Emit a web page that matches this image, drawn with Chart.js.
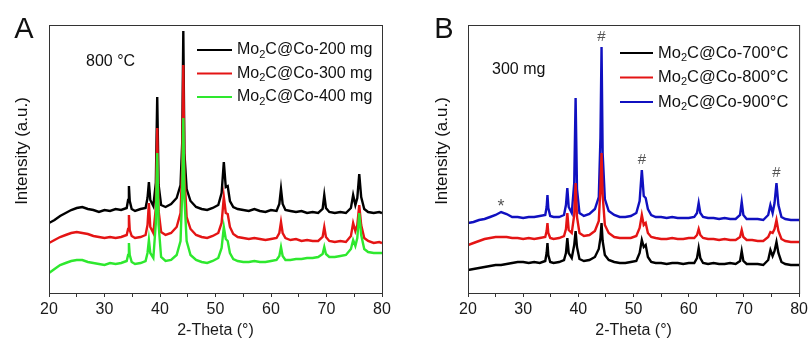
<!DOCTYPE html>
<html>
<head>
<meta charset="utf-8">
<script src="https://cdn.jsdelivr.net/npm/chart.js@4"></script>
<style>
  html, body { margin: 0; background: #fff; }
  .panel { position: absolute; top: 0; }
  #panelA { left: 0; }
  #panelB { left: 405px; }
</style>
</head>
<body>
<div class="panel" id="panelA"><canvas id="chartA" width="405" height="343"></canvas></div>
<div class="panel" id="panelB"><canvas id="chartB" width="406" height="343"></canvas></div>
<script>
// 2-theta positions shared by every pattern (denser around the reflections)
const twoTheta = [
    20, 21, 22, 23, 24, 25, 26, 27, 28, 29, 30, 31, 32, 33,
    34.0, 34.25, 34.4, 34.55, 34.9, 35.5, 36.5, 37.4, 37.75, 38.0, 38.25,
    38.8, 39.25, 39.5, 39.75, 40.2, 41, 42, 43, 43.7, 44.0, 44.2, 44.4, 44.8, 45.5,
    46.5, 47.5, 48.5, 49.5, 50.5, 51.1, 51.5, 51.85, 52.2, 52.6, 53.2,
    54, 55, 56, 57, 58, 59, 60, 61, 61.5, 61.8, 62.1, 62.6,
    63.5, 64.5, 65.5, 66.5, 67.5, 68.5, 69.3, 69.6, 69.9, 70.5,
    71.5, 72.5, 73.5, 74.4, 74.8, 75.2, 75.55, 75.9, 76.25, 76.8, 77.5, 78.5, 79.5, 80
]

// Panel A: 800 °C, different precursor masses (stacked, arbitrary units)
const mass200 = [
    70, 73, 77, 80, 83, 85, 86, 84, 83, 81, 83, 82, 84, 83,
    85, 93, 107, 92, 84, 82, 84, 85, 95, 111, 93,
    87, 110, 196, 108, 88, 86, 89, 95, 108, 150, 262, 140, 104, 92,
    86, 84, 83, 85, 88, 100, 131, 106, 107, 92, 86,
    84, 83, 82, 84, 82, 81, 83, 82, 89, 104, 89, 83,
    82, 81, 82, 80, 81, 80, 84, 98, 85, 81,
    80, 81, 80, 85, 98, 88, 95, 119, 96, 84, 81, 80, 81, 80
]
const mass300 = [
    50, 53, 56, 58, 60, 61, 60, 59, 57, 56, 55, 56, 55, 56,
    58, 64, 78, 63, 57, 55, 56, 58, 68, 90, 66,
    60, 85, 165, 82, 61, 58, 60, 66, 80, 125, 228, 118, 76, 64,
    58, 56, 55, 57, 60, 70, 96, 80, 79, 66, 59,
    56, 55, 54, 55, 54, 53, 54, 55, 60, 71, 60, 55,
    53, 54, 52, 53, 52, 52, 56, 66, 56, 52,
    51, 52, 51, 57, 70, 62, 68, 88, 68, 55, 52, 50, 51, 50
]
const mass400 = [
    20, 24, 28, 30, 32, 33, 33, 31, 30, 29, 28, 30, 29, 30,
    32, 38, 50, 38, 31, 29, 30, 32, 40, 53, 40,
    35, 70, 140, 68, 36, 32, 33, 38, 52, 100, 175, 95, 52, 38,
    33, 31, 30, 32, 35, 45, 66, 54, 52, 40, 34,
    32, 31, 31, 32, 31, 31, 32, 33, 37, 46, 37, 33,
    33, 34, 34, 35, 35, 36, 39, 46, 39, 36,
    36, 37, 38, 44, 53, 47, 55, 80, 58, 44, 41, 40, 40, 40
]

// Panel B: 300 mg, different annealing temperatures
const temp700 = [
    23, 24, 25, 26, 27, 28, 28, 29, 30, 31, 31, 30, 31, 30,
    32, 40, 50, 38, 31, 30, 31, 33, 40, 55, 40,
    35, 48, 62, 46, 34, 32, 33, 36, 44, 55, 70, 52, 38, 33,
    31, 30, 30, 31, 32, 40, 53, 46, 48, 36, 31,
    30, 30, 29, 30, 30, 29, 30, 30, 35, 45, 35, 30,
    29, 30, 29, 29, 30, 29, 32, 42, 32, 29,
    29, 29, 28, 33, 43, 37, 42, 51, 40, 31, 29, 28, 28, 28
]
const temp800 = [
    48, 50, 52, 54, 55, 56, 56, 56, 55, 55, 54, 55, 54, 55,
    56, 62, 70, 60, 55, 54, 55, 57, 64, 80, 63,
    60, 78, 110, 76, 60, 57, 58, 62, 72, 105, 140, 98, 68, 60,
    56, 55, 55, 55, 57, 65, 78, 68, 70, 60, 56,
    55, 54, 54, 55, 54, 54, 55, 55, 58, 64, 58, 55,
    54, 54, 53, 54, 53, 53, 56, 63, 56, 53,
    53, 52, 52, 56, 61, 60, 64, 73, 62, 54, 52, 51, 51, 51
]
const temp900 = [
    70, 71, 73, 74, 76, 78, 81, 79, 76, 76, 75, 76, 76, 77,
    78, 86, 98, 85, 77, 76, 76, 78, 88, 105, 86,
    80, 110, 195, 104, 80, 77, 79, 84, 96, 155, 246, 140, 94, 82,
    78, 76, 76, 77, 80, 92, 123, 97, 95, 84, 78,
    76, 76, 75, 76, 75, 75, 75, 76, 80, 90, 80, 76,
    75, 75, 74, 75, 74, 74, 78, 91, 78, 74,
    74, 74, 73, 78, 88, 80, 90, 110, 88, 76, 74, 73, 73, 73
]

const labelsA = ['Mo2C@Co-200 mg', 'Mo2C@Co-300 mg', 'Mo2C@Co-400 mg']
const labelsB = ['Mo2C@Co-700°C', 'Mo2C@Co-800°C', 'Mo2C@Co-900°C']

// reflections marked above the 900 °C pattern
const markTheta = [26, 44.2, 51.5, 75.9]
const markSymbols = ['*', '#', '#', '#']

const FONT = '"Liberation Sans", Arial, sans-serif'
Chart.defaults.font.family = FONT
Chart.defaults.color = '#1a1a1a'

const points = ys => twoTheta.map((x, i) => ({x: x, y: ys[i]}))

const dataset = (label, ys, color, order) => ({
    label: label, data: points(ys), borderColor: color, backgroundColor: color,
    borderWidth: 2.4, pointRadius: 0, tension: 0, order: order
})

// draws "Mo2C..." with the 2 as a subscript
function drawFormula(ctx, text, x, y, size) {
    const head = text.slice(0, 2), sub = text.slice(2, 3), tail = text.slice(3)
    ctx.font = `${size}px ${FONT}`
    ctx.fillText(head, x, y)
    x += ctx.measureText(head).width
    ctx.font = `${Math.round(size * 0.68)}px ${FONT}`
    ctx.fillText(sub, x, y + size * 0.3)
    x += ctx.measureText(sub).width
    ctx.font = `${size}px ${FONT}`
    ctx.fillText(tail, x, y)
}

// frame, panel letter, axis title, note and legend
const decorations = {
    id: 'decorations',
    afterDraw(chart, args, opts) {
        const {ctx, chartArea: a} = chart
        ctx.save()
        ctx.strokeStyle = '#333'
        ctx.lineWidth = 1
        ctx.strokeRect(a.left + 0.5, a.top + 0.5, a.right - a.left, a.bottom - a.top)

        ctx.fillStyle = '#111'
        ctx.textBaseline = 'middle'
        ctx.textAlign = 'center'
        ctx.font = `29px ${FONT}`
        ctx.fillText(opts.letter, opts.letterX, 30)

        ctx.save()
        ctx.translate(opts.titleX, 151)
        ctx.rotate(-Math.PI / 2)
        ctx.font = `17px ${FONT}`
        ctx.fillText('Intensity (a.u.)', 0, 0)
        ctx.restore()

        ctx.textAlign = 'left'
        ctx.font = `16px ${FONT}`
        ctx.fillText(opts.note, opts.noteX, opts.noteY)

        const lg = opts.legend
        chart.data.datasets.forEach((ds, i) => {
            const y = lg.y + i * lg.gap
            ctx.strokeStyle = ds.borderColor
            ctx.lineWidth = 2
            ctx.beginPath()
            ctx.moveTo(lg.x, y)
            ctx.lineTo(lg.x + lg.len, y)
            ctx.stroke()
            ctx.fillStyle = '#111'
            drawFormula(ctx, ds.label, lg.x + lg.len + 5, y, lg.size)
        })

        if (opts.marks) {
            const xs = chart.scales.x, ys = chart.scales.y
            const top = chart.data.datasets[2].data
            ctx.fillStyle = '#555'
            ctx.textAlign = 'center'
            ctx.font = `15px ${FONT}`
            markTheta.forEach((t, i) => {
                const p = top.find(d => d.x === t)
                const star = markSymbols[i] === '*'
                ctx.font = `${star ? 18 : 15}px ${FONT}`
                ctx.fillText(markSymbols[i], xs.getPixelForValue(t), ys.getPixelForValue(p.y) + (star ? -5 : -10))
            })
        }
        ctx.restore()
    }
}

function options(padding, deco) {
    return {
        responsive: false,
        animation: false,
        layout: {padding: padding},
        plugins: {legend: {display: false}, tooltip: {enabled: false}, decorations: deco},
        scales: {
            x: {
                type: 'linear', min: 20, max: 80,
                ticks: {
                    stepSize: 5, autoSkip: false, maxRotation: 0, padding: 3,
                    color: '#1a1a1a', font: {size: 16},
                    callback: v => v % 10 === 0 ? v : ''
                },
                grid: {drawOnChartArea: false, tickLength: 4, color: '#333'},
                border: {color: '#333'},
                title: {display: true, text: '2-Theta (°)', color: '#1a1a1a', font: {size: 16}, padding: {top: 0, bottom: 3}},
                afterFit: s => { s.height = 50 }
            },
            y: {display: false, min: 0, max: 268}
        }
    }
}

new Chart(document.getElementById('chartA'), {
    type: 'line',
    data: {
        datasets: [
            dataset(labelsA[0], mass200, '#000000', 2),
            dataset(labelsA[1], mass300, '#e41414', 1),
            dataset(labelsA[2], mass400, '#2ee82e', 0)
        ]
    },
    options: options({left: 49, right: 23, top: 25, bottom: 0}, {
        letter: 'A', letterX: 24, titleX: 22, note: '800 °C', noteX: 86, noteY: 62,
        legend: {x: 197, y: 50, gap: 23.5, len: 35, size: 16}
    }),
    plugins: [decorations]
})

new Chart(document.getElementById('chartB'), {
    type: 'line',
    data: {
        datasets: [
            dataset(labelsB[0], temp700, '#000000', 0),
            dataset(labelsB[1], temp800, '#e41414', 1),
            dataset(labelsB[2], temp900, '#1010c0', 2)
        ]
    },
    options: options({left: 63, right: 10, top: 25, bottom: 0}, {
        letter: 'B', letterX: 39, titleX: 37, note: '300 mg', noteX: 87, noteY: 70,
        legend: {x: 215, y: 53, gap: 24.5, len: 33, size: 16.5},
        marks: true
    }),
    plugins: [decorations]
})
</script>
</body>
</html>
